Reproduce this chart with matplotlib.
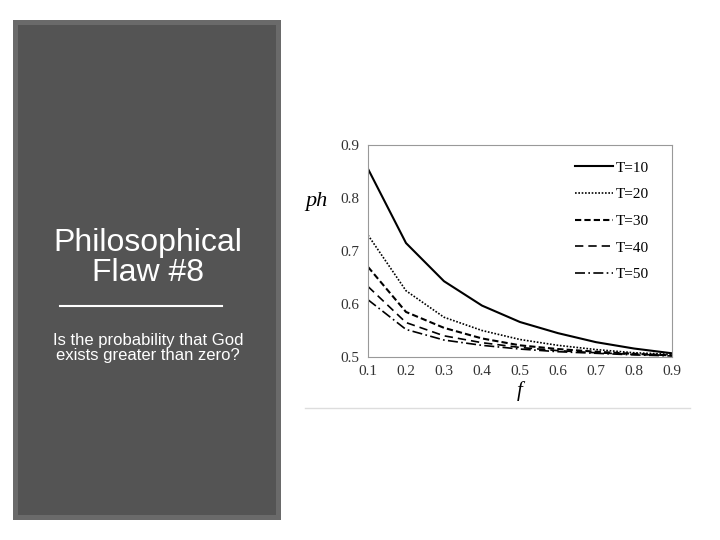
import matplotlib
matplotlib.use("Agg")
import matplotlib.pyplot as plt
from matplotlib.patches import Rectangle
from matplotlib.lines import Line2D

f = [0.1, 0.2, 0.3, 0.4, 0.5, 0.6, 0.7, 0.8, 0.9]
T10 = [0.855, 0.715, 0.643, 0.597, 0.566, 0.545, 0.528, 0.516, 0.507]
T20 = [0.730, 0.625, 0.575, 0.550, 0.533, 0.522, 0.514, 0.508, 0.505]
T30 = [0.670, 0.585, 0.555, 0.535, 0.522, 0.515, 0.510, 0.506, 0.503]
T40 = [0.633, 0.565, 0.540, 0.527, 0.518, 0.512, 0.508, 0.505, 0.503]
T50 = [0.608, 0.552, 0.532, 0.522, 0.515, 0.510, 0.507, 0.504, 0.502]
labels = ["T=10", "T=20", "T=30", "T=40", "T=50"]
xticks = [0.1, 0.2, 0.3, 0.4, 0.5, 0.6, 0.7, 0.8, 0.9]
yticks = [0.5, 0.6, 0.7, 0.8, 0.9]

W, H = 720, 540
fig = plt.figure(figsize=(7.2, 5.4), dpi=100)
fig.patch.set_facecolor("white")

def px(x0, y0, x1, y1):
    return (x0 / W, 1 - y1 / H, (x1 - x0) / W, (y1 - y0) / H)

x, y, w, h = px(13, 20, 281, 520)
fig.patches.append(Rectangle((x, y), w, h, transform=fig.transFigure,
                             facecolor="#6a6a6a", edgecolor="none"))
x, y, w, h = px(18, 25, 276, 515)
fig.patches.append(Rectangle((x, y), w, h, transform=fig.transFigure,
                             facecolor="#545454", edgecolor="none"))
fig.text(148 / W, 1 - 258 / H, "Philosophical\nFlaw #8", color="white",
         family="Liberation Sans", fontsize=23, ha="center", va="center", linespacing=1.0)
fig.add_artist(Line2D([60 / W, 222 / W], [1 - 306 / H] * 2, color="white", lw=1.5,
                      transform=fig.transFigure))
fig.text(148 / W, 1 - 348 / H, "Is the probability that God\nexists greater than zero?",
         color="white", family="Liberation Sans", fontsize=12, ha="center", va="center",
         linespacing=1.0)
fig.add_artist(Line2D([305 / W, 690 / W], [1 - 408 / H] * 2, color="#dddddd", lw=1,
                      transform=fig.transFigure))

ax = fig.add_axes([368 / W, 1 - 357 / H, (672 - 368) / W, (357 - 145) / H])
styles = [(T10, "-", 1.5), (T20, (0, (1, 1)), 1.2), (T30, (0, (3, 1.5)), 1.5),
          (T40, (0, (5, 3)), 1.2), (T50, (0, (6, 2, 1, 2)), 1.2)]
for (vals, ls, lw), lab in zip(styles, labels):
    ax.plot(f, vals, color="black", linestyle=ls, lw=lw, label=lab)
ax.set_xlim(0.1, 0.9)
ax.set_ylim(0.5, 0.9)
ax.set_xticks(xticks)
ax.set_yticks(yticks)
ax.set_xticklabels([f"{v:.1f}" for v in xticks], family="Liberation Serif", fontsize=11)
ax.set_yticklabels([f"{v:.1f}" for v in yticks], family="Liberation Serif", fontsize=11)
ax.tick_params(length=0, pad=6, colors="#333333")
for s in ax.spines.values():
    s.set_color("#999999")
ax.set_xlabel("f", family="Liberation Serif", style="italic", fontsize=15, labelpad=2)
ax.set_ylabel("ph", family="Liberation Serif", style="italic", fontsize=16, rotation=0)
ax.yaxis.set_label_coords(-0.17, 0.69)
leg = ax.legend(loc="upper right", frameon=False, prop={"family": "Liberation Serif", "size": 11},
                handlelength=2.5, handletextpad=0.2, labelspacing=0.85,
                bbox_to_anchor=(0.97, 0.99))
fig.savefig("out.png", dpi=100)
